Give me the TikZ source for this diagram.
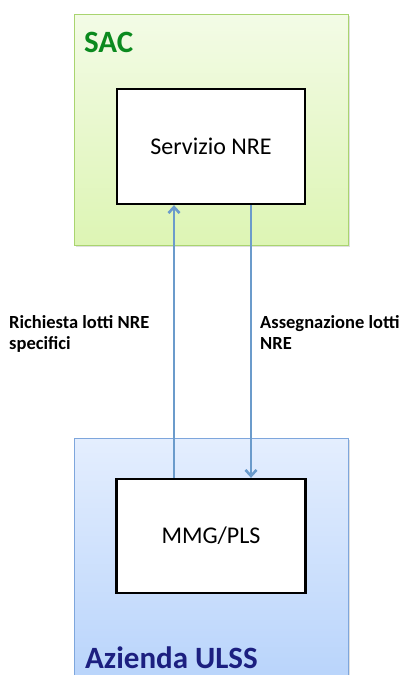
\documentclass[tikz,border=0pt]{standalone}
\usepackage{fontspec}
\setmainfont{Carlito}
\usetikzlibrary{arrows.meta,shadows}
\definecolor{sacborder}{HTML}{A9D46F}
\definecolor{sactop}{HTML}{F3FBE6}
\definecolor{sacbot}{HTML}{DDF5B4}
\definecolor{ulssborder}{HTML}{7EA6DC}
\definecolor{ulsstop}{HTML}{E4EEFE}
\definecolor{ulssbot}{HTML}{B7D3FB}
\definecolor{sacgreen}{HTML}{0B8A1E}
\definecolor{ulssnavy}{HTML}{1C1F80}
\definecolor{arrowblue}{HTML}{6B9BCB}
\tikzset{
  x=1pt, y=-1pt,
  area/.style={draw, line width=1pt, anchor=north west, inner sep=0pt,
    drop shadow={shadow xshift=1.5pt, shadow yshift=-1.5pt, opacity=0.25}},
  procbox/.style={draw=black, line width=2.3pt, fill=white, inner sep=0pt,
    font=\fontsize{24}{28}\selectfont},
  title/.style={font=\fontsize{31}{36}\selectfont\bfseries, anchor=base west, inner sep=0pt},
  flow/.style={draw=arrowblue, line width=2.8pt, -{Straight Barb[length=6pt,width=11pt,line width=2.6pt]}},
  lbl/.style={font=\fontsize{18.5}{21.5}\selectfont\bfseries, align=left, anchor=north west, inner sep=0pt}
}
\begin{document}
\begin{tikzpicture}
\useasboundingbox (0,0) rectangle (404,675);
\node[area, draw=sacborder, top color=sactop, bottom color=sacbot,
      minimum width=274pt, minimum height=231pt] (sac) at (74,14) {};
\node[area, draw=ulssborder, top color=ulsstop, bottom color=ulssbot,
      minimum width=274pt, minimum height=250pt] (ulss) at (74,438) {};
\node[title, text=sacgreen] (sact) at (84,52) {SAC};
\node[title, text=ulssnavy] (ulsst) at (85,668) {Azienda ULSS};
\node[procbox, minimum width=188pt, minimum height=115pt] (nre) at (211,146.5) {Servizio NRE};
\node[procbox, minimum width=189pt, minimum height=114pt] (mmg) at (211,536) {MMG/PLS};
\draw[flow] (mmg.north -| 174,0) -- (nre.south -| 174,0);
\draw[flow] (nre.south -| 251,0) -- (mmg.north -| 251,0);
\node[lbl] (l1) at (9,315) {Richiesta lotti NRE\\specifici};
\node[lbl] (l2) at (260,315) {Assegnazione lotti\\NRE};
\end{tikzpicture}
\end{document}
